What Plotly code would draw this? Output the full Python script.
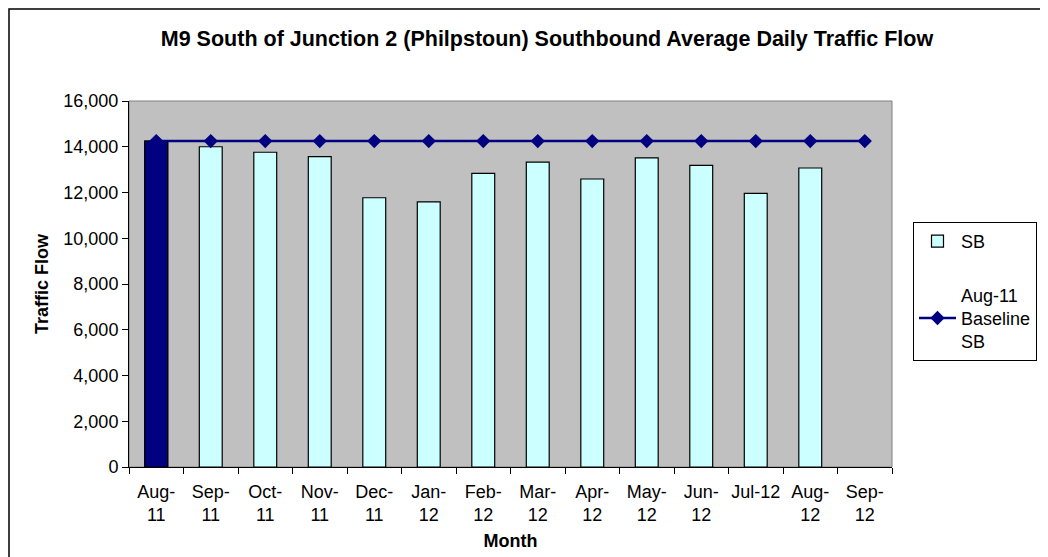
import plotly.graph_objects as go

months = ["Aug-<br>11", "Sep-<br>11", "Oct-<br>11", "Nov-<br>11", "Dec-<br>11", "Jan-<br>12",
          "Feb-<br>12", "Mar-<br>12", "Apr-<br>12", "May-<br>12", "Jun-<br>12", "Jul-12",
          "Aug-<br>12", "Sep-<br>12"]
sb_values = [14250, 14000, 13760, 13570, 11770, 11590, 12840, 13330, 12590, 13510, 13190, 11960, 13070, None]
baseline_values = [14250] * 14

FONT = "Liberation Sans, Arial, sans-serif"
NAVY = "#000080"
CYAN = "#CCFFFF"

# figure-pixel geometry (page has an 8px body margin)
W, H = 1040, 549
PL, PR, PT, PB = 121, 884, 93, 459


def px(x):
    return (x - PL) / (PR - PL)


def py(y):
    return (PB - y) / (PB - PT)


fig = go.Figure()
fig.add_trace(go.Bar(
    x=months, y=sb_values, name="SB", width=0.42,
    marker=dict(color=CYAN, line=dict(color="#000000", width=1.2)),
    legendgroup="a",
))
# first month highlighted in navy
fig.add_trace(go.Bar(
    x=months[:1], y=sb_values[:1], name="SB", width=0.42, showlegend=False,
    marker=dict(color=NAVY, line=dict(color="#000000", width=1.2)),
    legendgroup="a",
))
fig.add_trace(go.Scatter(
    x=months, y=baseline_values, name="Aug-11<br>Baseline<br>SB", mode="lines+markers",
    line=dict(color=NAVY, width=2.5),
    marker=dict(symbol="diamond", size=11, color=NAVY),
    legendgroup="b",
))

# chart outer border
fig.add_shape(type="rect", xref="paper", yref="paper",
              x0=px(1), x1=px(1037), y0=py(600), y1=py(1),
              line=dict(color="#000000", width=1.5), layer="below")
# plot area border (top/right grey)
fig.add_shape(type="rect", xref="paper", yref="paper", x0=0, x1=1, y0=0, y1=1,
              line=dict(color="#808080", width=1), layer="below")

fig.update_layout(
    width=W, height=H,
    margin=dict(l=PL, r=W - PR, t=PT, b=H - PB, autoexpand=False),
    paper_bgcolor="white", plot_bgcolor="#C0C0C0",
    font=dict(family=FONT, size=18, color="#000000"),
    barmode="overlay",
    title=dict(text="<b>M9 South of Junction 2 (Philpstoun) Southbound Average Daily Traffic Flow</b>",
               x=539 / W, xanchor="center", y=1 - 30 / H, yanchor="middle",
               font=dict(family=FONT, size=21.5, color="#000000")),
    legend=dict(x=px(905), y=py(214), xanchor="left", yanchor="top",
                bordercolor="#000000", borderwidth=1, bgcolor="white",
                font=dict(family=FONT, size=18), tracegroupgap=27, itemwidth=37,
                traceorder="grouped"),
    xaxis=dict(type="category", range=[-0.5, 13.5], tickson="boundaries", ticks="outside",
               ticklen=6, tickcolor="#000000", showline=True, linecolor="#000000", linewidth=1,
               showgrid=False, tickangle=0, ticklabelstandoff=8,
               title=dict(text="<b>Month</b>", font=dict(family=FONT, size=18), standoff=10)),
    yaxis=dict(range=[0, 16000], dtick=2000, tickformat=",", ticks="outside", ticklen=6,
               tickcolor="#000000", showline=True, linecolor="#000000", linewidth=1,
               showgrid=False, zeroline=False,
               title=dict(text="<b>Traffic Flow</b>", font=dict(family=FONT, size=18), standoff=10)),
)

fig.write_html("out.html")
